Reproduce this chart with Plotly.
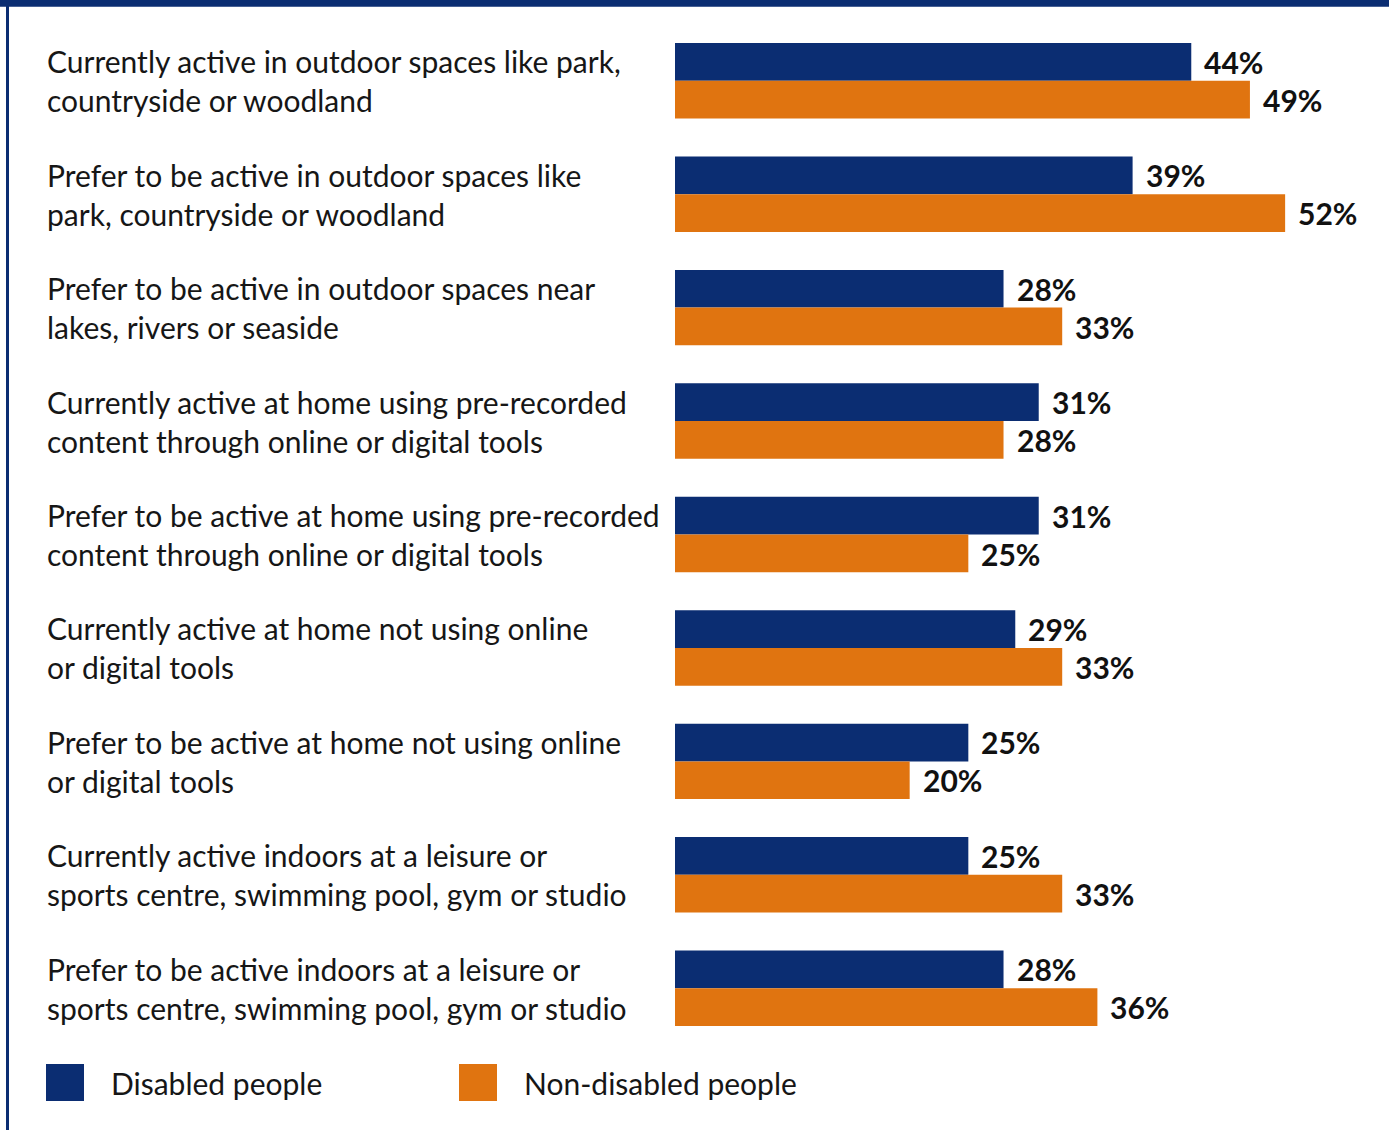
import plotly.graph_objects as go

# Survey categories, top to bottom
categories = [
    "Currently active in outdoor spaces like park,<br>countryside or woodland",
    "Prefer to be active in outdoor spaces like<br>park, countryside or woodland",
    "Prefer to be active in outdoor spaces near<br>lakes, rivers or seaside",
    "Currently active at home using pre-recorded<br>content through online or digital tools",
    "Prefer to be active at home using pre-recorded<br>content through online or digital tools",
    "Currently active at home not using online<br>or digital tools",
    "Prefer to be active at home not using online<br>or digital tools",
    "Currently active indoors at a leisure or<br>sports centre, swimming pool, gym or studio",
    "Prefer to be active indoors at a leisure or<br>sports centre, swimming pool, gym or studio",
]
disabled = [44, 39, 28, 31, 31, 29, 25, 25, 28]
non_disabled = [49, 52, 33, 28, 25, 33, 20, 33, 36]
series_names = ["Disabled people", "Non-disabled people"]

BLUE = "#0b2d72"
ORANGE = "#e07410"
FONT = "Lato"
TEXT = "#161616"

W, H = 1389, 1130
PLOT_L, PLOT_R = 675, 1379
PLOT_T, PLOT_B = 24.3, 1044.9
X_MAX = 60


def px_x(px):
    return (px - PLOT_L) / (PLOT_R - PLOT_L)


def px_y(py):
    return (PLOT_B - py) / (PLOT_B - PLOT_T)


ids = list(range(len(categories)))

fig = go.Figure()
fig.add_trace(go.Bar(y=ids, x=disabled, orientation="h", name=series_names[0],
                     marker=dict(color=BLUE, line=dict(width=0))))
fig.add_trace(go.Bar(y=ids, x=non_disabled, orientation="h", name=series_names[1],
                     marker=dict(color=ORANGE, line=dict(width=0))))

annotations = []
for i, cat in enumerate(categories):
    annotations.append(dict(
        x=px_x(45), xref="paper", y=i, yref="y", text=cat, showarrow=False,
        xanchor="left", yanchor="middle", align="left",
        font=dict(family=FONT, size=30, color=TEXT),
    ))
    for val, shift in ((disabled[i], 19), (non_disabled[i], -19)):
        annotations.append(dict(
            x=val, xref="x", y=i, yref="y", yshift=shift, xshift=11,
            text=f"<b>{val}%</b>", showarrow=False, xanchor="left", yanchor="middle",
            font=dict(family=FONT, size=30, color="#111111"),
        ))

# Frame edges and legend keys
shapes = [
    dict(type="rect", xref="paper", yref="paper", x0=px_x(0), x1=px_x(W), y0=px_y(0), y1=px_y(7),
         fillcolor=BLUE, line=dict(width=0), layer="above"),
    dict(type="rect", xref="paper", yref="paper", x0=px_x(6), x1=px_x(9), y0=px_y(0), y1=px_y(H),
         fillcolor=BLUE, line=dict(width=0), layer="above"),
]
for (x0, x1, tx), name, col in zip(((46, 84, 109), (459, 497, 522)), series_names, (BLUE, ORANGE)):
    shapes.append(dict(type="rect", xref="paper", yref="paper", x0=px_x(x0), x1=px_x(x1),
                       y0=px_y(1101), y1=px_y(1064), fillcolor=col, line=dict(width=0)))
    annotations.append(dict(x=px_x(tx), xref="paper", y=px_y(1083), yref="paper", text=name,
                            showarrow=False, xanchor="left", yanchor="middle",
                            font=dict(family=FONT, size=30, color=TEXT)))

fig.update_layout(
    width=W, height=H,
    margin=dict(l=PLOT_L, r=W - PLOT_R, t=PLOT_T, b=H - PLOT_B, pad=0),
    barmode="group", bargap=0.335, bargroupgap=0,
    paper_bgcolor="white", plot_bgcolor="white",
    showlegend=False,
    xaxis=dict(range=[0, X_MAX], visible=False, fixedrange=True),
    yaxis=dict(range=[len(categories) - 0.5, -0.5], visible=False, fixedrange=True),
    annotations=annotations, shapes=shapes,
)

fig.write_html("out.html", config={"displayModeBar": False})
